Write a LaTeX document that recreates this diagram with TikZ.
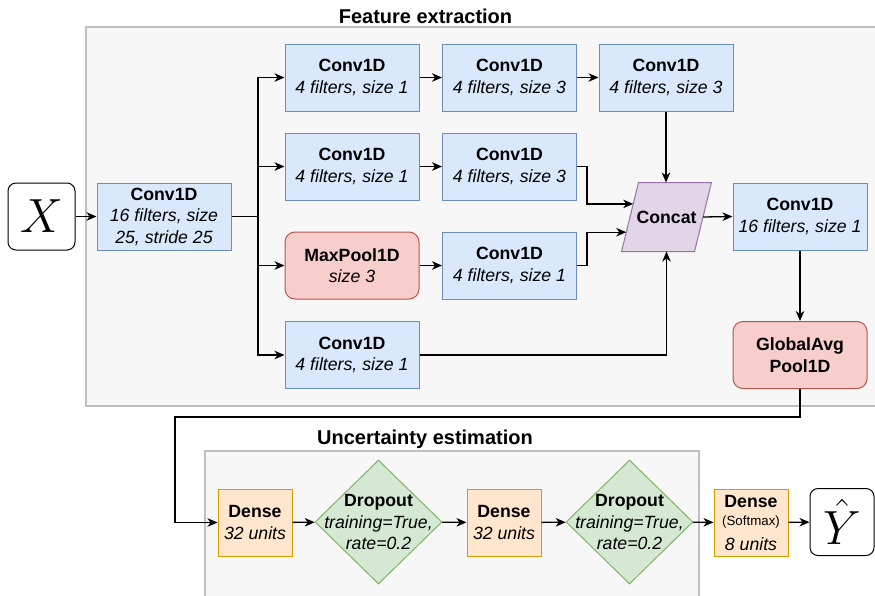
\RequirePackage{fix-cm}
\documentclass[tikz,border=0pt]{standalone}
\usepackage{fontspec}
\setmainfont{Liberation Sans}
\usetikzlibrary{shapes.geometric,arrows.meta,calc}
\definecolor{blueF}{HTML}{DAE8FC}\definecolor{blueD}{HTML}{6C8EBF}
\definecolor{redF}{HTML}{F8CECC}\definecolor{redD}{HTML}{B85450}
\definecolor{purF}{HTML}{E1D5E7}\definecolor{purD}{HTML}{9673A6}
\definecolor{oraF}{HTML}{FFE6CC}\definecolor{oraD}{HTML}{D79B00}
\definecolor{grnF}{HTML}{D5E8D4}\definecolor{grnD}{HTML}{82B366}
\definecolor{panF}{HTML}{F7F7F7}\definecolor{panD}{HTML}{BFBFBF}
\newcommand\nfont{\fontsize{17.7}{21.5}\selectfont}
\newcommand\zw[1]{\makebox[0pt]{#1}}
\tikzset{
  base/.style={inner sep=0pt, align=center, font=\nfont, line width=1pt},
  conv/.style={base, rectangle, fill=blueF, draw=blueD, minimum width=134pt, minimum height=67pt},
  pool/.style={base, rectangle, rounded corners=10pt, fill=redF, draw=redD, minimum width=134pt, minimum height=67pt},
  dense/.style={base, rectangle, fill=oraF, draw=oraD, minimum width=74pt, minimum height=67pt},
  drop/.style={base, diamond, fill=grnF, draw=grnD, minimum width=127pt, minimum height=124pt},
  io/.style={base, rectangle, rounded corners=8pt, draw=black, fill=white, minimum height=67pt},
  panel/.style={fill=panF, draw=panD, line width=1.2pt},
  ttl/.style={font=\fontsize{20}{24}\selectfont\bfseries},
  con/.style={line width=1.3pt, draw=black},
  arr/.style={con, -{Stealth[length=10pt,width=8.5pt,inset=3pt]}},
}
\begin{document}
\begin{tikzpicture}[x=1pt,y=-1pt]
\useasboundingbox (0,0) rectangle (875,595);
% panels
\draw[panel] (86,27) rectangle (885,406);
\draw[panel] (205,451) rectangle (699,605);
\node[ttl] (t1) at (425.5,16) {Feature extraction};
\node[ttl] (t2) at (425,439) {Uncertainty estimation};
% nodes
\node[io, minimum width=67pt] (X) at (41.5,216.5) {\fontsize{48}{48}\selectfont$X$};
\node[conv] (c0) at (164,216.5) {\textbf{Conv1D}\\\textit{16 filters, size}\\\textit{25, stride 25}};
\node[conv] (a1) at (352,77.5) {\textbf{Conv1D}\\\textit{4 filters, size 1}};
\node[conv] (a2) at (509.5,77.5) {\textbf{Conv1D}\\\textit{4 filters, size 3}};
\node[conv] (a3) at (666,77.5) {\textbf{Conv1D}\\\textit{4 filters, size 3}};
\node[conv] (b1) at (352,166.5) {\textbf{Conv1D}\\\textit{4 filters, size 1}};
\node[conv] (b2) at (509.5,166.5) {\textbf{Conv1D}\\\textit{4 filters, size 3}};
\node[pool] (mp) at (352,265.5) {\textbf{MaxPool1D}\\\textit{size 3}};
\node[conv] (c2) at (509.5,265.5) {\textbf{Conv1D}\\\textit{4 filters, size 1}};
\node[conv] (d1) at (352,355) {\textbf{Conv1D}\\\textit{4 filters, size 1}};
% concat parallelogram
\node[base, rectangle, minimum width=89pt, minimum height=68pt] (cc) at (666.5,217) {};
\draw[fill=purF, draw=purD, line width=1pt] (cc.south west) -- ([xshift=17pt]cc.north west) -- (cc.north east) -- ([xshift=-17pt]cc.south east) -- cycle;
\node[font=\nfont\bfseries] (cct) at (cc) {Concat};
\coordinate (cl1) at ($(cc.south west)!0.69!([xshift=17pt]cc.north west)$);
\coordinate (cl2) at ($(cc.south west)!0.28!([xshift=17pt]cc.north west)$);
\coordinate (cr) at ($([xshift=-17pt]cc.south east)!0.5!(cc.north east)$);
\node[conv] (c16) at (800,216.5) {\textbf{Conv1D}\\\textit{16 filters, size 1}};
\node[pool] (gap) at (800,355) {\textbf{GlobalAvg}\\\textbf{Pool1D}};
% lower row
\node[dense] (dn1) at (255,522.5) {\textbf{Dense}\\\textit{32 units}};
\node[drop] (dr1) at (378.5,522) {\zw{\textbf{Dropout}}\\\zw{\textit{training=True,}}\\\zw{\textit{rate=0.2}}};
\node[dense] (dn2) at (504,522.5) {\textbf{Dense}\\\textit{32 units}};
\node[drop] (dr2) at (629.5,522) {\zw{\textbf{Dropout}}\\\zw{\textit{training=True,}}\\\zw{\textit{rate=0.2}}};
\node[dense] (dn3) at (751,522.5) {\textbf{Dense}\\[-3.5pt]{\fontsize{13.3}{16}\selectfont(Softmax)}\\[3.5pt]\textit{8 units}};
\node[io, minimum width=64pt] (yh) at (842,522) {\fontsize{48}{48}\selectfont$\hat{Y}$};
% connectors
\coordinate (j) at (258,216.5);
\coordinate (turn) at (175,417);
\draw[arr] (X) -- (c0);
\draw[con] (c0.east) -- (j);
\draw[arr] (j) |- (a1.west);
\draw[arr] (j) |- (b1.west);
\draw[arr] (j) |- (mp.west);
\draw[arr] (j) |- (d1.west);
\draw[arr] (a1) -- (a2);
\draw[arr] (a2) -- (a3);
\draw[arr] (b1) -- (b2);
\draw[arr] (mp) -- (c2);
\draw[arr] (a3.south) -- (a3.south |- cc.north);
\draw[arr] (b2.east) -- ++(10,0) |- (cl1);
\draw[arr] (c2.east) -- ++(10,0) |- (cl2);
\draw[arr] (d1.east) -| (cc.south);
\draw[arr] (cr) -- (c16.west);
\draw[arr] (c16) -- (gap);
\draw[arr] (gap.south) |- (turn) |- (dn1.west);
\draw[arr] (dn1) -- (dr1);
\draw[arr] (dr1) -- (dn2);
\draw[arr] (dn2) -- (dr2);
\draw[arr] (dr2) -- (dn3);
\draw[arr] (dn3) -- (yh);
\end{tikzpicture}
\end{document}
